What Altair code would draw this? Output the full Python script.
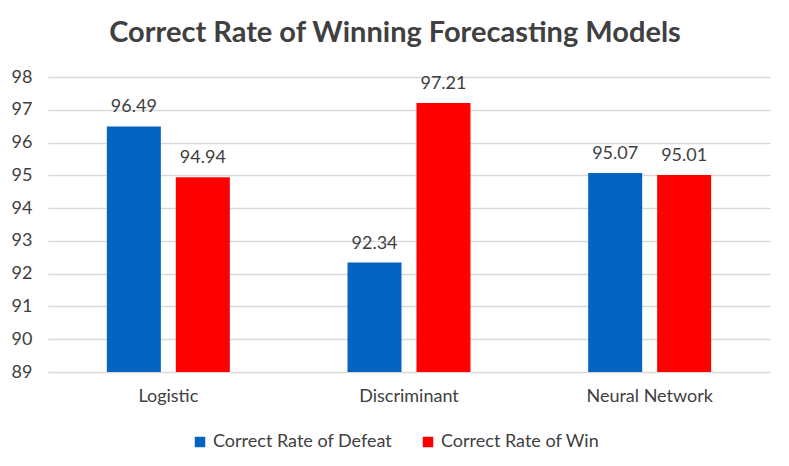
import altair as alt
import pandas as pd

models = ["Logistic", "Discriminant", "Neural Network"]
series = ["Correct Rate of Defeat", "Correct Rate of Win"]
defeat = [96.49, 92.34, 95.07]
win = [94.94, 97.21, 95.01]
colors = ["#0563C1", "#FF0000"]

rows = []
for m, d, w in zip(models, defeat, win):
    rows.append({"model": m, "series": series[0], "value": d})
    rows.append({"model": m, "series": series[1], "value": w})
df = pd.DataFrame(rows)

FONT = "Lato"
TXT = "#404040"

x = alt.X("model:N", sort=models, title=None,
          scale=alt.Scale(paddingInner=0.489, paddingOuter=0.2445),
          axis=alt.Axis(labelAngle=0, labelFontSize=18, labelColor=TXT,
                        labelFont=FONT, ticks=False, domain=False, labelPadding=15))
xo = alt.XOffset("series:N", sort=series, scale=alt.Scale(paddingInner=0.217))
y = alt.Y("value:Q", title=None,
          scale=alt.Scale(domain=[89, 98], zero=False, nice=False),
          axis=alt.Axis(values=list(range(89, 99)), labelFontSize=18,
                        labelColor=TXT, labelFont=FONT, ticks=False,
                        domain=False, labelPadding=16, gridColor="#D9D9D9",
                        gridWidth=1.3))

bars = alt.Chart(df).mark_bar().encode(
    x=x, xOffset=xo, y=y, y2=alt.datum(89),
    color=alt.Color("series:N", sort=series,
                    scale=alt.Scale(domain=series, range=colors),
                    legend=alt.Legend(title=None, orient="none", direction="horizontal",
                                      legendX=143, legendY=356, symbolType="square",
                                      symbolSize=110, symbolStrokeWidth=0,
                                      labelFontSize=18, labelColor=TXT,
                                      labelFont=FONT, columnPadding=26,
                                      labelLimit=400,
                                      symbolOffset=0, labelOffset=4)),
)

labels = alt.Chart(df).mark_text(baseline="bottom", dy=-10, fontSize=18,
                                 color=TXT, font=FONT).encode(
    x=x, xOffset=xo, y=y, text=alt.Text("value:Q", format=".2f"))

chart = (bars + labels).properties(
    width=722, height=295,
    autosize=alt.AutoSizeParams(type="none"),
    padding={"left": 40, "top": 69, "right": 11, "bottom": 86},
    title=alt.TitleParams("Correct Rate of Winning Forecasting Models",
                          fontSize=29, fontWeight="bold", color=TXT,
                          font=FONT, anchor="middle", dx=-14, offset=20),
).configure_view(stroke=None)

chart.save("out.html", embed_options={"renderer": "svg", "actions": False})
